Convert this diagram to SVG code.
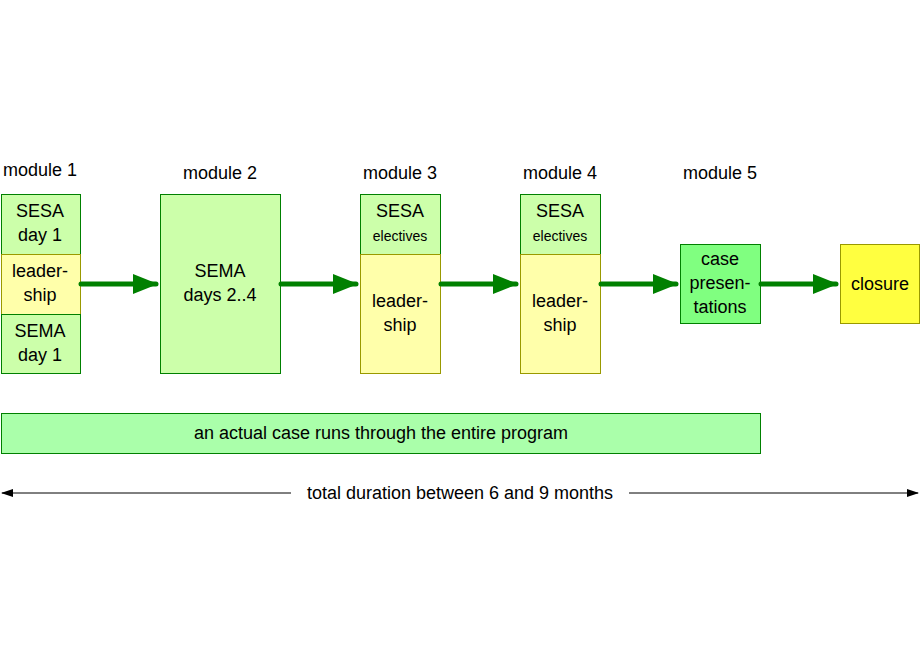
<svg xmlns="http://www.w3.org/2000/svg" width="920" height="660" viewBox="0 0 920 660">
<style>
text{font-family:"Liberation Sans",Arial,sans-serif;font-size:18px;fill:#000;text-anchor:middle}
.g{fill:#ccffaa;stroke:#008000;stroke-width:1}
.y{fill:#ffffaa;stroke:#999900;stroke-width:1}
.s{font-size:14px}
.c{stroke:#008000;stroke-width:5;stroke-linecap:round;fill:none}
</style>
<defs>
<marker id="ah" markerWidth="5" markerHeight="4" refX="4.6" refY="2" orient="auto" markerUnits="strokeWidth"><path d="M0,0L5,2L0,4Z" fill="#008000"/></marker>
<marker id="sm" markerWidth="12" markerHeight="8" refX="11" refY="4" orient="auto-start-reverse" markerUnits="userSpaceOnUse"><path d="M0,0L12,4L0,8Z" fill="#000"/></marker>
</defs>
<rect width="920" height="660" fill="#fff"/>
<text x="40" y="176">module 1</text>
<text x="220" y="179">module 2</text>
<text x="400" y="179">module 3</text>
<text x="560" y="179">module 4</text>
<text x="720" y="179">module 5</text>
<g id="m1">
<rect class="g" x="1.5" y="194.5" width="79" height="60"/>
<text x="40" y="217">SESA</text><text x="40" y="241">day 1</text>
<rect class="y" x="1.5" y="254.5" width="79" height="60"/>
<text x="40" y="277">leader-</text><text x="40" y="301">ship</text>
<rect class="g" x="1.5" y="314.5" width="79" height="59"/>
<text x="40" y="337">SEMA</text><text x="40" y="361">day 1</text>
</g>
<g id="m2">
<rect class="g" x="160.5" y="194.5" width="120" height="179"/>
<text x="220" y="277">SEMA</text><text x="220" y="301">days 2..4</text>
</g>
<g id="m3">
<rect class="g" x="360.5" y="194.5" width="80" height="60"/>
<text x="400" y="217">SESA</text><text class="s" x="400" y="241">electives</text>
<rect class="y" x="360.5" y="254.5" width="80" height="119"/>
<text x="400" y="307">leader-</text><text x="400" y="331">ship</text>
</g>
<g id="m4">
<rect class="g" x="520.5" y="194.5" width="80" height="60"/>
<text x="560" y="217">SESA</text><text class="s" x="560" y="241">electives</text>
<rect class="y" x="520.5" y="254.5" width="80" height="119"/>
<text x="560" y="307">leader-</text><text x="560" y="331">ship</text>
</g>
<g id="m5">
<rect x="680.5" y="244.5" width="80" height="79" fill="#80ff80" stroke="#008000"/>
<text x="720" y="265">case</text><text x="720" y="289">presen-</text><text x="720" y="313">tations</text>
</g>
<g id="closure">
<rect x="840.5" y="244.5" width="79" height="79" fill="#ffff40" stroke="#999900"/>
<text x="880" y="290">closure</text>
</g>
<g id="case">
<rect x="1.5" y="413.5" width="759" height="40" fill="#aaffaa" stroke="#008000"/>
<text x="381" y="439">an actual case runs through the entire program</text>
</g>
<g id="connectors">
<path class="c" d="M81,284H156" marker-end="url(#ah)"/>
<path class="c" d="M281,284H356" marker-end="url(#ah)"/>
<path class="c" d="M441,284H516" marker-end="url(#ah)"/>
<path class="c" d="M601,284H676" marker-end="url(#ah)"/>
<path class="c" d="M761,284H836" marker-end="url(#ah)"/>
<path d="M2,493H291M629,493H918" stroke="#000" stroke-width="1" marker-start="url(#sm)" marker-end="url(#sm)"/>
</g>
<text x="460" y="499">total duration between 6 and 9 months</text>
</svg>
